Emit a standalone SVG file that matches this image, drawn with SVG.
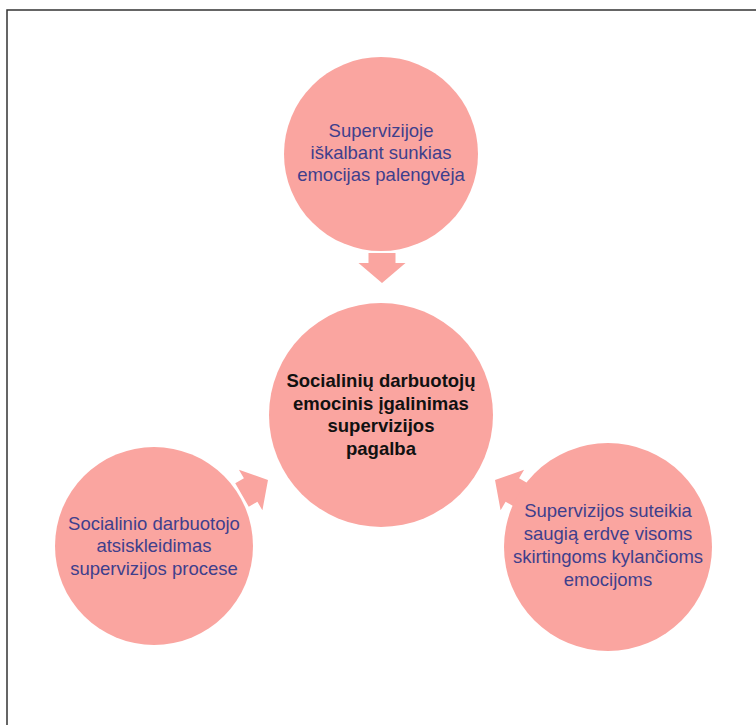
<svg xmlns="http://www.w3.org/2000/svg" width="756" height="725" viewBox="0 0 756 725">
<defs>
<style>
.c{fill:#FAA5A0;}
.t{font-family:"Liberation Sans",Arial,sans-serif;font-size:18.5px;fill:#3F3F8C;text-anchor:middle;}
.b{font-family:"Liberation Sans",Arial,sans-serif;font-size:18.5px;font-weight:bold;fill:#111111;text-anchor:middle;}
.a{fill:#FAA5A0;}
</style>
<polygon id="arr" points="0,-13.5 10,-13.5 10,-23.5 30,0 10,23.5 10,13.5 0,13.5"/>
</defs>
<rect width="756" height="725" fill="#ffffff"/>
<path d="M7,725 V10 H756" fill="none" stroke="#333333" stroke-width="1.5"/>
<g id="connectors">
<use href="#arr" class="a" transform="translate(382,253) rotate(90)"/>
<use href="#arr" class="a" transform="translate(242,495) rotate(-30)"/>
<use href="#arr" class="a" transform="translate(521,495) rotate(-150)"/>
</g>
<g id="node-top">
<circle class="c" cx="381" cy="154" r="97"/>
<text class="t" x="381" y="137">Supervizijoje</text>
<text class="t" x="381" y="159">iškalbant sunkias</text>
<text class="t" x="381" y="181">emocijas palengvėja</text>
</g>
<g id="node-center">
<circle class="c" cx="381" cy="415" r="112"/>
<text class="b" x="381" y="387">Socialinių darbuotojų</text>
<text class="b" x="381" y="410">emocinis įgalinimas</text>
<text class="b" x="381" y="432">supervizijos</text>
<text class="b" x="381" y="455">pagalba</text>
</g>
<g id="node-left">
<circle class="c" cx="154" cy="546" r="99"/>
<text class="t" x="154" y="530">Socialinio darbuotojo</text>
<text class="t" x="154" y="552">atsiskleidimas</text>
<text class="t" x="154" y="575">supervizijos procese</text>
</g>
<g id="node-right">
<circle class="c" cx="608" cy="547" r="104"/>
<text class="t" x="608" y="517">Supervizijos suteikia</text>
<text class="t" x="608" y="540">saugią erdvę visoms</text>
<text class="t" x="608" y="563">skirtingoms kylančioms</text>
<text class="t" x="608" y="586">emocijoms</text>
</g>
</svg>
